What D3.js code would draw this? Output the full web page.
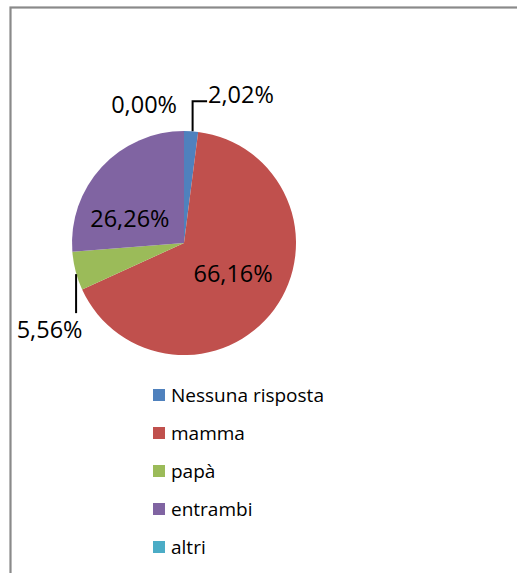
<!DOCTYPE html>
<html>
<head>
<meta charset="utf-8">
<script src="https://cdn.jsdelivr.net/npm/d3@7"></script>
<style>
  body { margin: 0; background: #fff; }
  svg { display: block; }
</style>
</head>
<body>
<div id="chart"></div>
<script>
// data
const categories = ['Nessuna risposta', 'mamma', 'papà', 'entrambi', 'altri'];
const values = [2.02, 66.16, 5.56, 26.26, 0.0];
const colors = ['#4F81BD', '#C0504D', '#9BBB59', '#8064A2', '#4BACC6'];

// label placement (inside: nudge from centroid; outside: leader from rim)
const labelLayout = [
  {pos: 'out', leader: [[1.5, 0], [1.5, -30], [16, -30]], dx: 17, dy: -28, anchor: 'start'},
  {pos: 'in', dx: 4, dy: 6},
  {pos: 'out', leader: [[0.5, 3], [0.5, 42]], dx: -26, dy: 67, anchor: 'middle'},
  {pos: 'in', dx: -13, dy: 22},
  {pos: 'out', leader: null, dx: -7, dy: -18, anchor: 'end'}
];

const width = 517,
  height = 573;
const cx = 184,
  cy = 243,
  radius = 112;

const fmt = (v) => v.toFixed(2).replace('.', ',') + '%';

const svg = d3.select('#chart').append('svg').attr('width', width).attr('height', height);

// chart frame (runs off the right and bottom edges)
svg
  .append('rect')
  .attr('x', 10.5)
  .attr('y', 7.5)
  .attr('width', width + 20)
  .attr('height', height + 20)
  .attr('fill', 'none')
  .attr('stroke', '#8a8a8a')
  .attr('stroke-width', 2.2);

const pie = d3.pie().sort(null).value((d) => d);
const arcs = pie(values);

const arc = d3.arc().innerRadius(0).outerRadius(radius);

const g = svg.append('g').attr('transform', 'translate(' + cx + ',' + cy + ')');

g.selectAll('path.slice')
  .data(arcs)
  .enter()
  .append('path')
  .attr('class', 'slice')
  .attr('d', arc)
  .attr('fill', (d, i) => colors[i]);

function rimPoint(d) {
  const a = (d.startAngle + d.endAngle) / 2;
  return [radius * Math.sin(a), -radius * Math.cos(a)];
}

const labelFont = '"Open Sans", sans-serif';

arcs.forEach(function (d, i) {
  const lay = labelLayout[i];
  if (lay.pos === 'in') {
    const c = arc.centroid(d);
    g.append('text')
      .attr('x', c[0] + lay.dx)
      .attr('y', c[1] + lay.dy)
      .attr('text-anchor', 'middle')
      .attr('font-family', labelFont)
      .attr('font-size', 23.5)
      .attr('fill', '#000')
      .text(fmt(values[i]));
  } else {
    const p = rimPoint(d);
    if (lay.leader) {
      g.append('path')
        .attr('d', d3.line()(lay.leader.map((o) => [p[0] + o[0], p[1] + o[1]])))
        .attr('fill', 'none')
        .attr('stroke', '#000')
        .attr('stroke-width', 2);
    }
    g.append('text')
      .attr('x', p[0] + lay.dx)
      .attr('y', p[1] + lay.dy)
      .attr('text-anchor', lay.anchor)
      .attr('font-family', labelFont)
      .attr('font-size', 23.5)
      .attr('fill', '#000')
      .text(fmt(values[i]));
  }
});

// legend
const legendY = d3.scaleBand().domain(categories).range([376, 566]);

const legend = svg
  .append('g')
  .selectAll('g')
  .data(categories)
  .enter()
  .append('g')
  .attr('transform', (d) => 'translate(153,' + (legendY(d) + legendY.bandwidth() / 2) + ')');

legend
  .append('rect')
  .attr('x', 0)
  .attr('y', -6)
  .attr('width', 12)
  .attr('height', 12)
  .attr('fill', (d, i) => colors[i]);

legend
  .append('text')
  .attr('x', 18)
  .attr('y', 7)
  .attr('font-family', labelFont)
  .attr('font-size', 19)
  .attr('fill', '#000')
  .text((d) => d);
</script>
</body>
</html>
